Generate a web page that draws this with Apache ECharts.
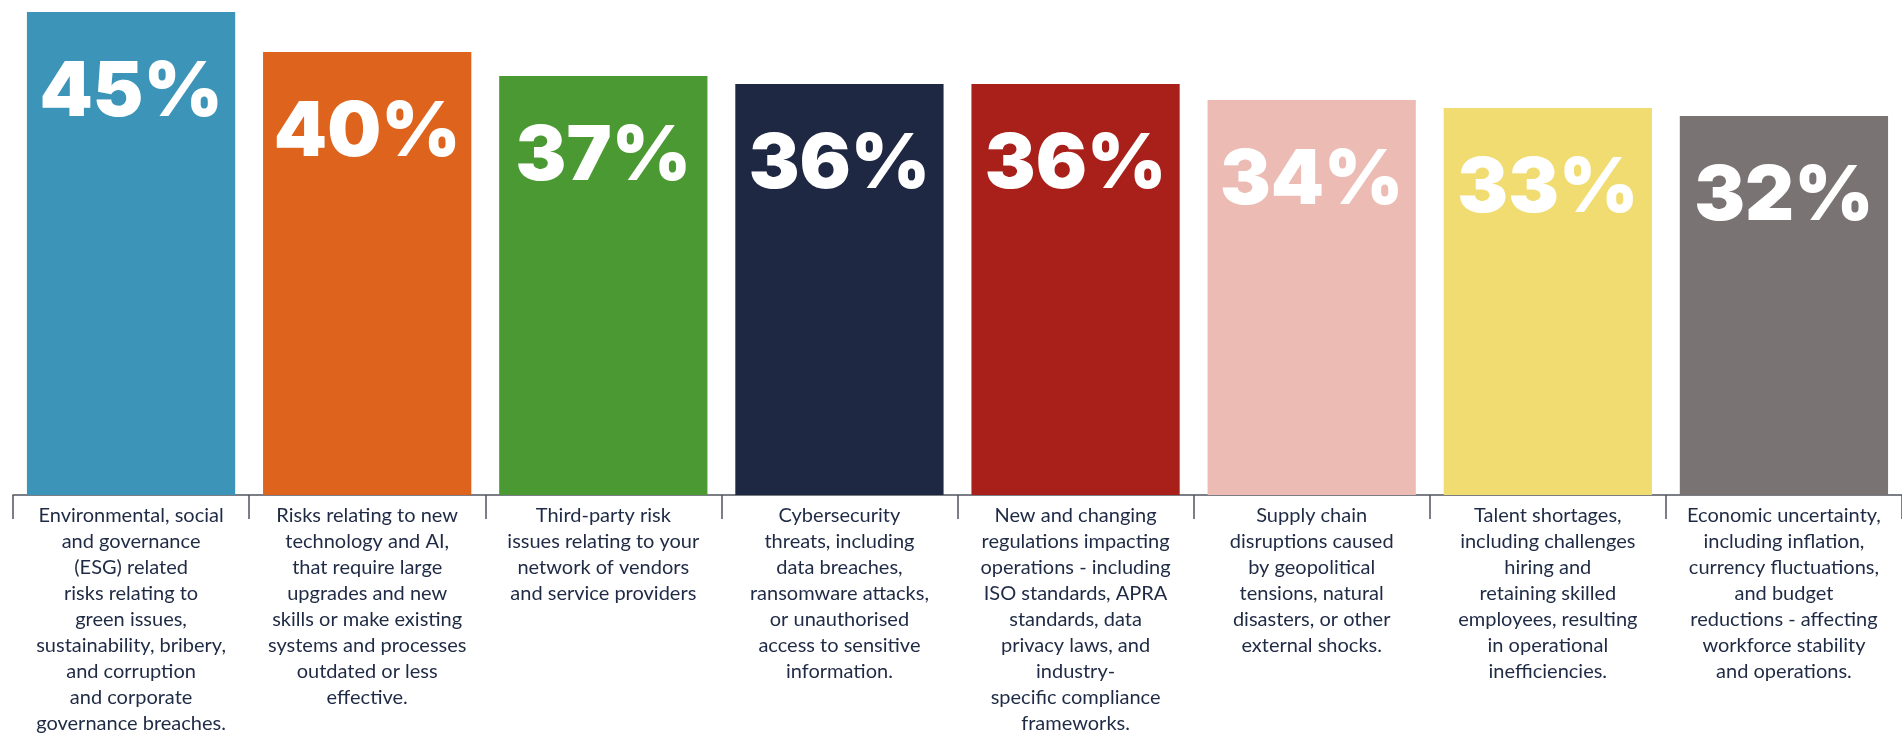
<!DOCTYPE html>
<html>
<head>
<meta charset="utf-8">
<title>Top risks</title>
<script src="https://cdn.jsdelivr.net/npm/echarts@6/dist/echarts.min.js"></script>
<style>
  html, body { margin: 0; padding: 0; background: #ffffff; overflow: hidden; }
  #chart { width: 1902px; height: 738px; }
</style>
</head>
<body>
<div id="chart"></div>
<script>
// Risk categories (label text with its own line breaks)
const categories = [
  'Environmental, social\nand governance\n(ESG) related\nrisks relating to\ngreen issues,\nsustainability, bribery,\nand corruption\nand corporate\ngovernance breaches.',
  'Risks relating to new\ntechnology and AI,\nthat require large\nupgrades and new\nskills or make existing\nsystems and processes\noutdated or less\neffective.',
  'Third-party risk\nissues relating to your\nnetwork of vendors\nand service providers',
  'Cybersecurity\nthreats, including\ndata breaches,\nransomware attacks,\nor unauthorised\naccess to sensitive\ninformation.',
  'New and changing\nregulations impacting\noperations - including\nISO standards, APRA\nstandards, data\nprivacy laws, and\nindustry-\nspecific compliance\nframeworks.',
  'Supply chain\ndisruptions caused\nby geopolitical\ntensions, natural\ndisasters, or other\nexternal shocks.',
  'Talent shortages,\nincluding challenges\nhiring and\nretaining skilled\nemployees, resulting\nin operational\ninefficiencies.',
  'Economic uncertainty,\nincluding inflation,\ncurrency fluctuations,\nand budget\nreductions - affecting\nworkforce stability\nand operations.'
];

// Share of respondents naming each risk (%)
const values = [45, 40, 37, 36, 36, 34, 33, 32];

// One colour per risk
const barColors = ['#3c95b8', '#de631d', '#4a9933', '#1f2843', '#a9201b', '#ecbbb4', '#f1dc71', '#7a7374'];

// Value axis range (bars rise from the axis floor)
const axisMin = -15.375;
const axisMax = 45;

const chart = echarts.init(document.getElementById('chart'), null, { renderer: 'canvas' });

chart.setOption({
  backgroundColor: '#ffffff',
  animation: false,
  grid: { left: 13, right: -7, top: 12, bottom: 243, containLabel: false },
  xAxis: {
    type: 'category',
    data: categories,
    boundaryGap: true,
    axisLine: { show: true, onZero: false, lineStyle: { color: '#50555e', width: 1.5 } },
    axisTick: { show: true, length: 24, alignWithLabel: false, lineStyle: { color: '#50555e', width: 1.5 } },
    axisLabel: {
      interval: 0,
      margin: 8,
      color: '#1f2a44',
      fontFamily: 'Lato',
      fontSize: 20,
      lineHeight: 26,
      align: 'center'
    }
  },
  yAxis: {
    type: 'value',
    min: axisMin,
    max: axisMax,
    startValue: axisMin,
    show: false,
    splitLine: { show: false }
  },
  series: [{
    type: 'bar',
    data: values.map((v, i) => ({ value: v, itemStyle: { color: barColors[i] } })),
    barCategoryGap: '11.8%',
    label: {
      show: true,
      position: ['50%', 81],
      align: 'center',
      verticalAlign: 'middle',
      formatter: '{c}%',
      color: '#ffffff',
      fontFamily: 'Inter',
      fontWeight: 900,
      fontSize: 76
    }
  }]
});
</script>
</body>
</html>
